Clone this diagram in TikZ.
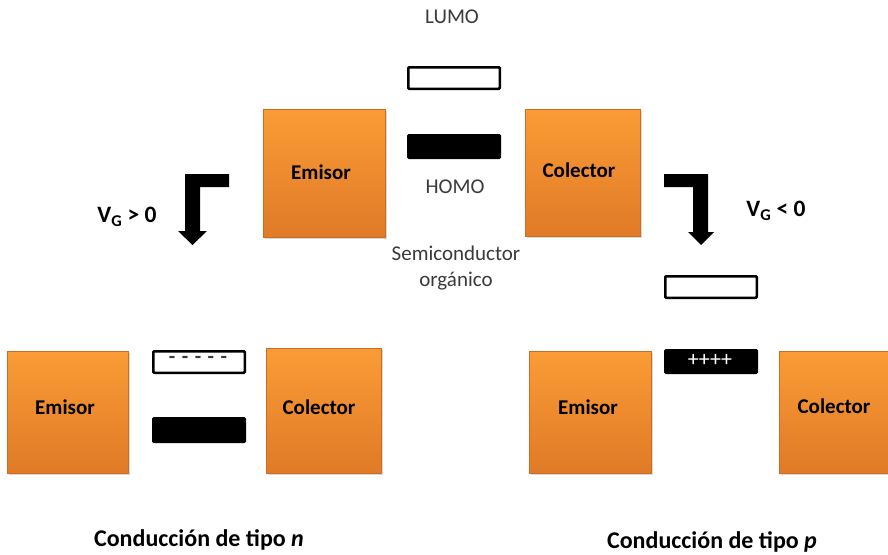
\documentclass[tikz,border=0pt]{standalone}
\usepackage{fontspec}
\setmainfont{Carlito}
\usetikzlibrary{shadows}
\definecolor{orangeTop}{HTML}{FA9C36}
\definecolor{orangeBot}{HTML}{E07A27}
\definecolor{txtgray}{HTML}{3A3A3A}
\tikzset{
  electrode/.style={rectangle, inner sep=0pt, top color=orangeTop, bottom color=orangeBot,
    draw=orangeBot!90!black, line width=0.3pt,
    drop shadow={opacity=0.3, shadow xshift=1.5pt, shadow yshift=-2pt},
    font=\fontsize{21}{24}\selectfont\bfseries},
  lumo/.style={rectangle, inner sep=0pt, minimum width=91.5pt, minimum height=21.5pt,
    draw=black, line width=2.5pt, fill=white, rounded corners=1pt},
  homo/.style={rectangle, inner sep=0pt, minimum width=94pt, minimum height=25pt,
    fill=black, rounded corners=1.5pt},
  lbl/.style={font=\fontsize{21}{26}\selectfont, text=txtgray, inner sep=0pt, align=center},
  blbl/.style={font=\fontsize{21}{24}\selectfont\bfseries, inner sep=0pt},
  vglbl/.style={font=\fontsize{23.5}{26}\selectfont\bfseries, inner sep=0pt},
  condlbl/.style={font=\fontsize{24}{28}\selectfont\bfseries, inner sep=0pt},
  bentarrow/.style={fill=black, draw=none},
}
\begin{document}
\begin{tikzpicture}[x=1pt,y=-1pt]
\useasboundingbox (0,0) rectangle (888,554);
\clip (0,0) rectangle (888,554);
\fill[white] (0,0) rectangle (888,554);

% ---------- top row ----------
\node[lbl] (lumoT) at (452,17) {LUMO};
\node[lumo] (lumoR) at (454,78) {};
\node[homo] (homoR) at (454,146.5) {};
\node[lbl] (homoT) at (455,187) {HOMO};
\node[lbl] (semi) at (456,268) {Semiconductor\\orgánico};
\node[electrode, minimum width=122pt, minimum height=128pt] (emT) at (324,173) {};
\node[blbl] (emTt) at (321,172) {Emisor};
\node[electrode, minimum width=115pt, minimum height=127pt] (coT) at (582.5,172.5) {};
\node[blbl] (coTt) at (579,170) {Colector};

% ---------- bent arrows ----------
\fill[bentarrow] (229,174) -- (185,174) -- (185,231) -- (178,231) -- (192.5,245)
  -- (207,231) -- (200,231) -- (200,187) -- (229,187) -- cycle;
\fill[bentarrow] (664,174) -- (708,174) -- (708,232) -- (714,232) -- (701,245)
  -- (688,232) -- (693,232) -- (693,187) -- (664,187) -- cycle;
\node[vglbl] (vgp) at (127,217) {V\textsubscript{G} > 0};
\node[vglbl] (vgn) at (776,211) {V\textsubscript{G} < 0};

% ---------- n-type ----------
\node[electrode, minimum width=121pt, minimum height=122pt] (emN) at (67.5,412) {};
\node[blbl] (emNt) at (65,407) {Emisor};
\node[lumo] (lumoN) at (199,362) {};
\node[font=\fontsize{21}{24}\selectfont\bfseries, text=txtgray, inner sep=0pt] (dashN) at (198,360)
  {-\hspace{6.5pt}-\hspace{6.5pt}-\hspace{6.5pt}-\hspace{6.5pt}-};
\node[homo, minimum height=26pt] (homoN) at (199,430) {};
\node[electrode, minimum width=115pt, minimum height=125pt] (coN) at (323.5,410.5) {};
\node[blbl] (coNt) at (319,407) {Colector};
\node[condlbl] (condN) at (199,540) {Conducción de tipo \textit{n}};

% ---------- p-type ----------
\node[lumo] (lumoP) at (711,287) {};
\node[homo] (homoP) at (711,361.5) {};
\node[font=\fontsize{22}{24}\selectfont, text=white, inner sep=0pt] (plusP) at (710,360) {++++};
\node[electrode, minimum width=122pt, minimum height=122pt] (emP) at (590,412) {};
\node[blbl] (emPt) at (588,407) {Emisor};
\node[electrode, minimum width=115pt, minimum height=122pt] (coP) at (836.5,412) {};
\node[blbl] (coPt) at (834,406) {Colector};
\node[condlbl] (condP) at (712,542) {Conducción de tipo \textit{p}};
\end{tikzpicture}
\end{document}
